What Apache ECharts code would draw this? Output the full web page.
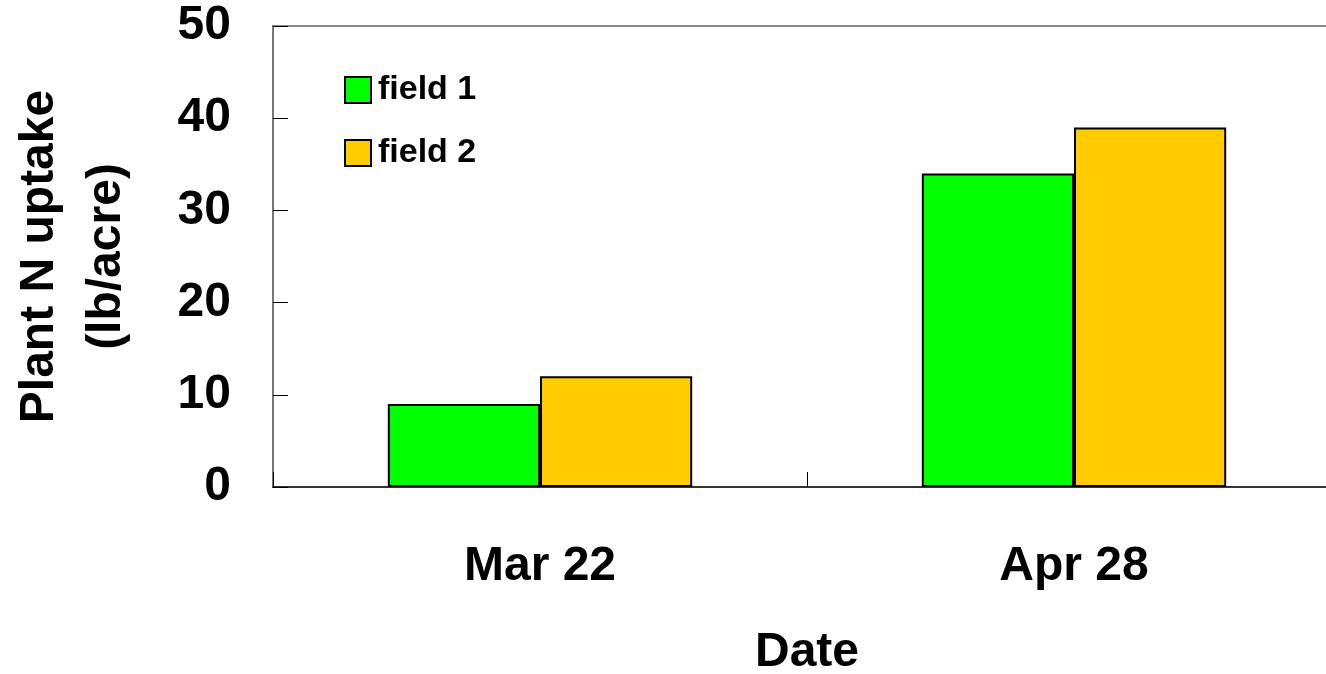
<!DOCTYPE html>
<html>
<head>
<meta charset="utf-8">
<script src="https://cdn.jsdelivr.net/npm/echarts@6/dist/echarts.min.js"></script>
<style>
  html, body { margin: 0; padding: 0; background: #fff; }
  #chart { width: 1326px; height: 674px; }
</style>
</head>
<body>
<div id="chart"></div>
<script>
// Sampling dates and plant N uptake (lb/acre) per field
const dates = ['Mar 22', 'Apr 28'];
const field1 = [9, 34];
const field2 = [12, 39];
const seriesNames = ['field 1', 'field 2'];
const yTicks = { min: 0, max: 50, step: 10 };

const FONT = '"Liberation Sans", Arial, Helvetica, sans-serif';

const chart = echarts.init(document.getElementById('chart'), null, { renderer: 'canvas' });

const barStyle = (color) => ({
  color: color,
  borderColor: '#000',
  borderWidth: 2
});

chart.setOption({
  animation: false,
  backgroundColor: '#fff',
  textStyle: { fontFamily: FONT },
  grid: {
    left: 273,
    top: 26,
    width: 1068,
    bottom: 187,
    containLabel: false,
    outerBoundsMode: 'none',
    show: true,
    borderColor: '#8a8a8a',
    borderWidth: 2,
    backgroundColor: 'transparent'
  },
  legend: {
    data: seriesNames,
    orient: 'vertical',
    left: 339,
    top: 68,
    padding: 5,
    itemWidth: 26,
    itemHeight: 26,
    itemGap: 29,
    icon: 'rect',
    textStyle: {
      fontFamily: FONT,
      fontSize: 34,
      fontWeight: 'bold',
      color: '#000',
      padding: [0, 0, 0, 2]
    }
  },
  xAxis: {
    type: 'category',
    data: dates,
    name: 'Date',
    nameLocation: 'middle',
    nameGap: 142,
    nameTextStyle: { fontFamily: FONT, fontSize: 48, fontWeight: 'bold', color: '#000' },
    axisLine: { lineStyle: { color: '#333', width: 2 } },
    axisTick: { show: true, inside: true, length: 15, lineStyle: { color: '#000', width: 1 } },
    axisLabel: { fontFamily: FONT, fontSize: 48, fontWeight: 'bold', color: '#000', margin: 56 },
    splitLine: { show: false }
  },
  yAxis: {
    type: 'value',
    min: yTicks.min,
    max: yTicks.max,
    interval: yTicks.step,
    name: 'Plant N uptake\n(lb/acre)',
    nameLocation: 'middle',
    nameGap: 133,
    nameTextStyle: { fontFamily: FONT, fontSize: 48, fontWeight: 'bold', color: '#000', lineHeight: 67 },
    axisLine: { show: true, lineStyle: { color: '#777', width: 2 } },
    axisTick: { show: true, inside: true, length: 15, lineStyle: { color: '#000', width: 1 } },
    axisLabel: { fontFamily: FONT, fontSize: 48, fontWeight: 'bold', color: '#000', margin: 42 },
    splitLine: { show: false }
  },
  series: [
    {
      name: seriesNames[0],
      type: 'bar',
      data: field1,
      barGap: '0%',
      barCategoryGap: '43%',
      itemStyle: barStyle('#00ff00')
    },
    {
      name: seriesNames[1],
      type: 'bar',
      data: field2,
      barGap: '0%',
      barCategoryGap: '43%',
      itemStyle: barStyle('#ffcc00')
    }
  ]
});
</script>
</body>
</html>
